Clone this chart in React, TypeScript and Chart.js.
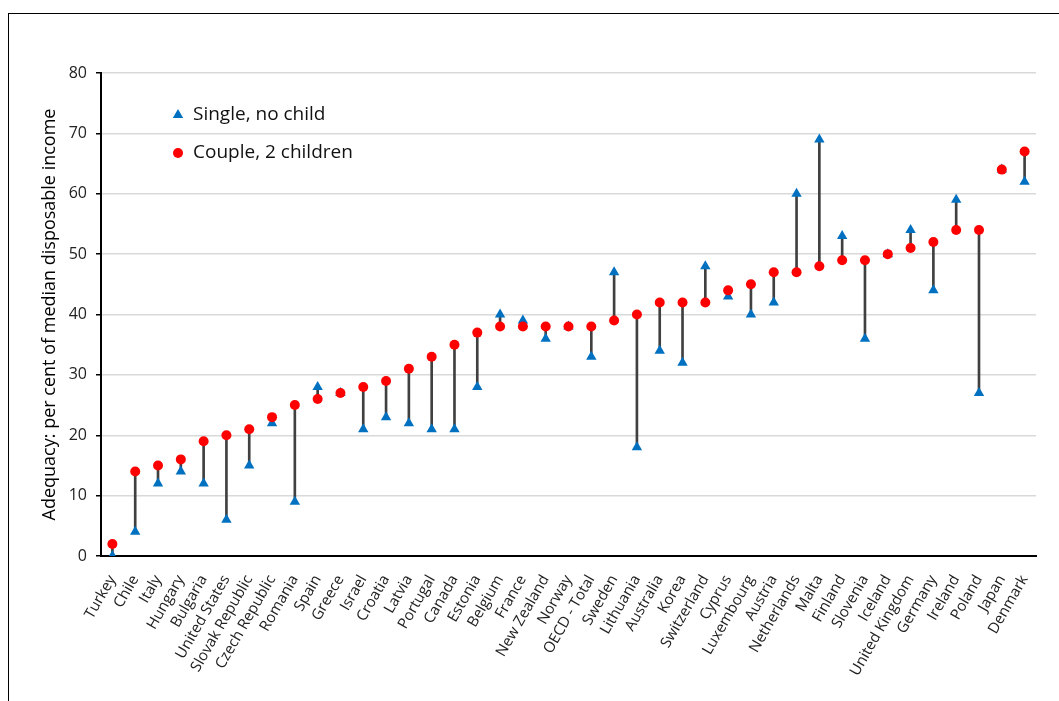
import React, { useEffect, useRef } from "react";
import { Chart, registerables } from "chart.js";

Chart.register(...registerables);

const countries = [
  "Turkey", "Chile", "Italy", "Hungary", "Bulgaria", "United States", "Slovak Republic",
  "Czech Republic", "Romania", "Spain", "Greece", "Israel", "Croatia", "Latvia", "Portugal",
  "Canada", "Estonia", "Belgium", "France", "New Zealand", "Norway", "OECD - Total", "Sweden",
  "Lithuania", "Australia", "Korea", "Switzerland", "Cyprus", "Luxembourg", "Austria",
  "Netherlands", "Malta", "Finland", "Slovenia", "Iceland", "United Kingdom", "Germany",
  "Ireland", "Poland", "Japan", "Denmark",
];

const singleNoChild = [
  0, 4, 12, 14, 12, 6, 15, 22, 9, 28, 27, 21, 23, 22, 21, 21, 28, 40, 39, 36, 38, 33, 47,
  18, 34, 32, 48, 43, 40, 42, 60, 69, 53, 36, 50, 54, 44, 59, 27, 64, 62,
];

const coupleTwoChildren = [
  2, 14, 15, 16, 19, 20, 21, 23, 25, 26, 27, 28, 29, 31, 33, 35, 37, 38, 38, 38, 38, 38, 39,
  40, 42, 42, 42, 44, 45, 47, 47, 48, 49, 49, 50, 51, 52, 54, 54, 64, 67,
];

const yTicks = [0, 10, 20, 30, 40, 50, 60, 70, 80];

const legendLabels = ["Single, no child", "Couple, 2 children"];

const FONT = "'Open Sans', 'DejaVu Sans', sans-serif";
const BLUE = "#0070C0";
const RED = "#FF0000";

const legendPlugin = {
  id: "insideLegend",
  afterDraw(chart: any) {
    const { ctx, chartArea } = chart;
    const mx = chartArea.left + 77;
    const tx = chartArea.left + 92;
    const y1 = chartArea.top + 42;
    const y2 = chartArea.top + 80;
    ctx.save();
    ctx.fillStyle = BLUE;
    const r = 6;
    ctx.beginPath();
    ctx.moveTo(mx, y1 - r);
    ctx.lineTo(mx + r * 0.866, y1 + r * 0.5);
    ctx.lineTo(mx - r * 0.866, y1 + r * 0.5);
    ctx.closePath();
    ctx.fill();
    ctx.fillStyle = RED;
    ctx.beginPath();
    ctx.arc(mx, y2, 5, 0, Math.PI * 2);
    ctx.fill();
    ctx.fillStyle = "#111";
    ctx.font = `19px ${FONT}`;
    ctx.textBaseline = "middle";
    ctx.textAlign = "left";
    ctx.fillText(legendLabels[0], tx, y1);
    ctx.fillText(legendLabels[1], tx, y2);
    ctx.restore();
  },
};

export default function App() {
  const ref = useRef<HTMLCanvasElement | null>(null);

  useEffect(() => {
    if (!ref.current) return;
    const stems = singleNoChild.map((s, i) => [
      Math.min(s, coupleTwoChildren[i]),
      Math.max(s, coupleTwoChildren[i]),
    ]);
    const chart = new Chart(ref.current, {
      type: "bar",
      data: {
        labels: countries,
        datasets: [
          {
            type: "bar",
            label: "range",
            data: stems as any,
            backgroundColor: "#404040",
            barThickness: 2,
            order: 3,
          },
          {
            type: "line",
            label: legendLabels[0],
            data: singleNoChild,
            showLine: false,
            pointStyle: "triangle",
            pointRadius: 6,
            pointBackgroundColor: BLUE,
            pointBorderColor: BLUE,
            pointBorderWidth: 0,
            order: 2,
          },
          {
            type: "line",
            label: legendLabels[1],
            data: coupleTwoChildren,
            showLine: false,
            pointStyle: "circle",
            pointRadius: 5,
            pointBackgroundColor: RED,
            pointBorderColor: RED,
            pointBorderWidth: 0,
            order: 1,
          },
        ],
      },
      options: {
        responsive: false,
        animation: false,
        layout: { padding: { top: 59, right: 23, left: 26, bottom: 0 } },
        plugins: {
          legend: { display: false },
          tooltip: { enabled: false },
        },
        scales: {
          x: {
            grid: { display: false },
            border: { color: "#000", width: 2 },
            ticks: {
              color: "#222",
              font: { family: FONT, size: 15 },
              minRotation: 60,
              maxRotation: 60,
              autoSkip: false,
              padding: 8,
            },
            afterFit(scale: any) {
              scale.height = 145;
            },
          },
          y: {
            min: 0,
            max: 80,
            afterBuildTicks(scale: any) {
              scale.ticks = yTicks.map((v) => ({ value: v }));
            },
            grid: {
              color: "#d9d9d9",
              lineWidth: 1.5,
              tickColor: "#000",
              tickLength: 5,
            },
            border: { color: "#000", width: 2 },
            ticks: {
              color: "#222",
              font: { family: FONT, size: 16 },
              padding: 9,
            },
            title: {
              display: true,
              text: "Adequacy: per cent of median disposable income",
              color: "#000",
              font: { family: FONT, size: 18 },
            },
            afterFit(scale: any) {
              scale.width = 66;
            },
          },
        },
      },
      plugins: [legendPlugin],
    });
    return () => chart.destroy();
  }, []);

  return (
    <div
      style={{
        position: "fixed",
        left: 8,
        top: 13,
        width: 1051,
        height: 688,
        boxSizing: "border-box",
        borderTop: "1px solid #000",
        borderLeft: "1px solid #000",
        background: "#fff",
        overflow: "hidden",
      }}
    >
      <canvas ref={ref} width={1050} height={687} style={{ display: "block" }} />
    </div>
  );
}
